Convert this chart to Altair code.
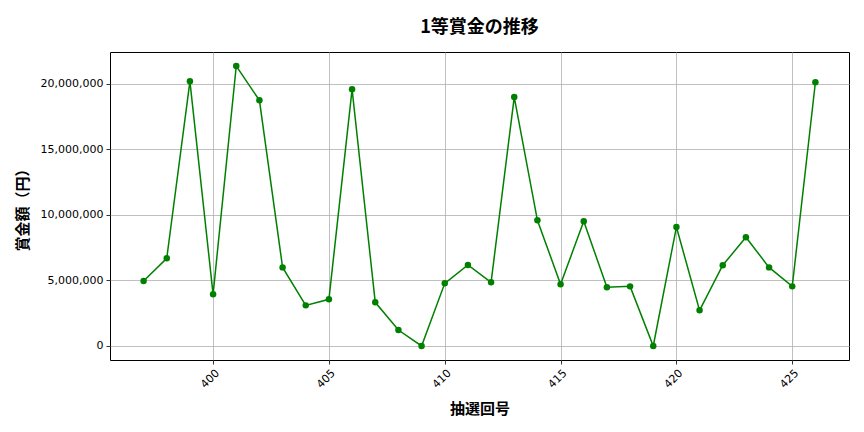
import altair as alt
import pandas as pd

draws = list(range(397, 427))
prizes = [4960000, 6690000, 20200000, 3940000, 21370000, 18750000, 6000000, 3100000,
          3560000, 19590000, 3330000, 1220000, 0, 4780000, 6180000, 4860000,
          19000000, 9590000, 4710000, 9520000, 4480000, 4550000, 0, 9080000,
          2720000, 6160000, 8300000, 6000000, 4550000, 20130000]
x_ticks = [400, 405, 410, 415, 420, 425]
y_ticks = [0, 5000000, 10000000, 15000000, 20000000]

df = pd.DataFrame({"draw": draws, "prize": prizes})

base = alt.Chart(df).encode(
    x=alt.X("draw:Q", scale=alt.Scale(domain=[395.55, 427.45], nice=False, zero=False),
            axis=alt.Axis(title="抽選回号", values=x_ticks, labelAngle=-45,
                          labelAlign="right", labelBaseline="top", format="d")),
    y=alt.Y("prize:Q", scale=alt.Scale(domain=[-1070000, 22440000], nice=False, zero=False),
            axis=alt.Axis(title="賞金額（円）", values=y_ticks, format=",d")),
)

line = base.mark_line(color="#008000", strokeWidth=1.5, clip=True)
pts = base.mark_point(color="#008000", filled=True, opacity=1, size=42, clip=True)

chart = (line + pts).properties(
    width=739, height=308,
    autosize=alt.AutoSizeParams(type="none"),
    padding={"left": 102, "top": 44, "right": 7, "bottom": 64},
    title=alt.TitleParams("1等賞金の推移", fontSize=18, font="Noto Sans CJK JP",
                          fontWeight="bold", anchor="middle", offset=15, color="black"),
).configure_view(stroke="black", strokeWidth=1).configure_axis(
    grid=True, gridColor="#b0b0b0", gridWidth=0.8, gridOpacity=1,
    domain=False, tickColor="black", tickSize=4, tickWidth=0.8,
    labelFont="DejaVu Sans", labelFontSize=11, labelColor="black",
    titleFont="Noto Sans CJK JP", titleFontSize=15, titleFontWeight="bold",
    titleColor="black", labelPadding=3,
).configure_axisY(titlePadding=10).configure_axisX(titlePadding=12)

chart.save("out.html", embed_options={"renderer": "svg", "actions": False})
